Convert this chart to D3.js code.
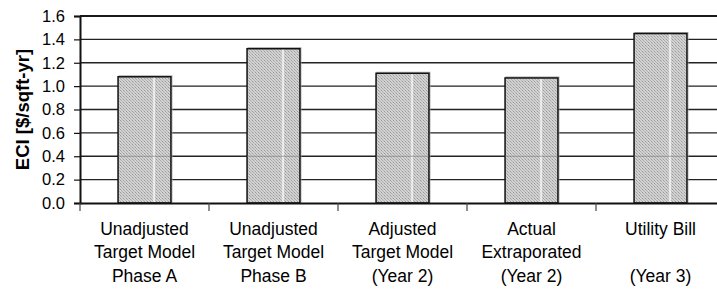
<!DOCTYPE html>
<html><head><meta charset="utf-8">
<script src="https://cdn.jsdelivr.net/npm/d3@7"></script>
<style>
html,body{margin:0;padding:0;background:#fff;overflow:hidden;}
svg{display:block;font-family:"Liberation Sans",Arial,sans-serif;}
</style></head>
<body>
<svg id="chart" width="717" height="289"></svg>
<script>
const categories = [
  ["Unadjusted", "Target Model", "Phase A"],
  ["Unadjusted", "Target Model", "Phase B"],
  ["Adjusted", "Target Model", "(Year 2)"],
  ["Actual", "Extraporated", "(Year 2)"],
  ["Utility Bill", "", "(Year 3)"]
];
const values = [1.08, 1.32, 1.11, 1.07, 1.45];
const yTicks = [0, 0.2, 0.4, 0.6, 0.8, 1.0, 1.2, 1.4, 1.6];
const yLabel = "ECI [$/sqft-yr]";

(function() {
const svg = d3.select("#chart");
const pLeft = 80, pRight = 725, pTop = 16, pBottom = 203;

const x = d3.scaleBand().domain(d3.range(categories.length)).range([pLeft, pRight]).padding(0);
const y = d3.scaleLinear().domain([0, 1.6]).range([pBottom, pTop]);

// pattern
const defs = svg.append("defs");
const pat = defs.append("pattern").attr("id", "hatch").attr("patternUnits", "userSpaceOnUse")
  .attr("width", 3).attr("height", 3);
pat.append("rect").attr("width", 3).attr("height", 3).attr("fill", "#d2d2d2");
pat.append("rect").attr("x", 0).attr("y", 0).attr("width", 1).attr("height", 1).attr("fill", "#9a9a9a");
pat.append("rect").attr("x", 1).attr("y", 1).attr("width", 1).attr("height", 1).attr("fill", "#acacac");
pat.append("rect").attr("x", 2).attr("y", 2).attr("width", 1).attr("height", 1).attr("fill", "#b4b4b4");

// gridlines
svg.append("g").selectAll("line").data(yTicks.filter(d => d > 0 && d < 1.6)).join("line")
  .attr("x1", pLeft).attr("x2", pRight)
  .attr("y1", d => y(d)).attr("y2", d => y(d))
  .attr("stroke", "#222").attr("stroke-width", 1.3);

// top border
svg.append("line").attr("x1", pLeft).attr("x2", pRight).attr("y1", y(1.6)).attr("y2", y(1.6))
  .attr("stroke", "#1a1a1a").attr("stroke-width", 2);

// bars
const barW = x.bandwidth() * 0.41;
const bx = i => x(i) + x.bandwidth() / 2 - barW / 2;
const bars = svg.append("g").selectAll("g").data(values).join("g");
bars.append("rect")
  .attr("x", (d, i) => bx(i) + 1)
  .attr("y", d => y(d) - 1)
  .attr("width", barW).attr("height", d => pBottom - y(d))
  .attr("fill", "none").attr("stroke", "#aaa").attr("stroke-width", 1);
bars.append("rect")
  .attr("x", (d, i) => bx(i))
  .attr("y", d => y(d))
  .attr("width", barW).attr("height", d => pBottom - y(d))
  .attr("fill", "url(#hatch)").attr("stroke", "#111").attr("stroke-width", 1.5);
bars.append("line")
  .attr("x1", (d, i) => bx(i) + barW * 0.68)
  .attr("x2", (d, i) => bx(i) + barW * 0.68)
  .attr("y1", d => y(d) + 1).attr("y2", pBottom - 1)
  .attr("stroke", "#fff").attr("stroke-width", 1.3);
bars.append("line")
  .attr("x1", (d, i) => bx(i))
  .attr("x2", (d, i) => bx(i) + barW)
  .attr("y1", y(0.4)).attr("y2", y(0.4))
  .attr("stroke", "#777").attr("stroke-width", 1).attr("opacity", 0.6);

// y axis
const yAxis = d3.axisLeft(y).tickValues(yTicks).tickFormat(d3.format(".1f")).tickSize(6).tickPadding(9);
const gy = svg.append("g").attr("transform", `translate(${pLeft},0)`).call(yAxis);
gy.select(".domain").attr("stroke", "#111").attr("stroke-width", 2);
gy.selectAll(".tick line").attr("stroke", "#111").attr("stroke-width", 1.2);
gy.selectAll("text").attr("font-size", 16.5).attr("fill", "#000")
  .attr("font-family", "'Liberation Sans',Arial,sans-serif");

// x axis
const xAxis = d3.axisBottom(x).tickSize(0).tickFormat("");
const gx = svg.append("g").attr("transform", `translate(0,${pBottom})`).call(xAxis);
gx.select(".domain").attr("stroke", "#111").attr("stroke-width", 2);
gx.selectAll(".bnd").data(d3.range(categories.length + 1)).join("line").attr("class", "bnd")
  .attr("x1", i => pLeft + i * x.bandwidth()).attr("x2", i => pLeft + i * x.bandwidth())
  .attr("y1", 0).attr("y2", 8).attr("stroke", "#444").attr("stroke-width", 1.2);

// category labels
const lab = svg.append("g").selectAll("text").data(categories).join("text")
  .attr("text-anchor", "middle").attr("font-size", 17.5).attr("fill", "#000");
lab.each(function(lines, i) {
  const t = d3.select(this);
  lines.forEach((s, k) => {
    t.append("tspan").attr("x", x(i) + x.bandwidth() / 2).attr("y", 235 + k * 23.3).text(s);
  });
});

// y label
svg.append("text").attr("transform", `translate(29,${(pTop + pBottom) / 2}) rotate(-90)`)
  .attr("text-anchor", "middle").attr("font-size", 18.5).attr("font-weight", "bold")
  .attr("fill", "#000").text(yLabel);
})();
</script>
</body></html>
